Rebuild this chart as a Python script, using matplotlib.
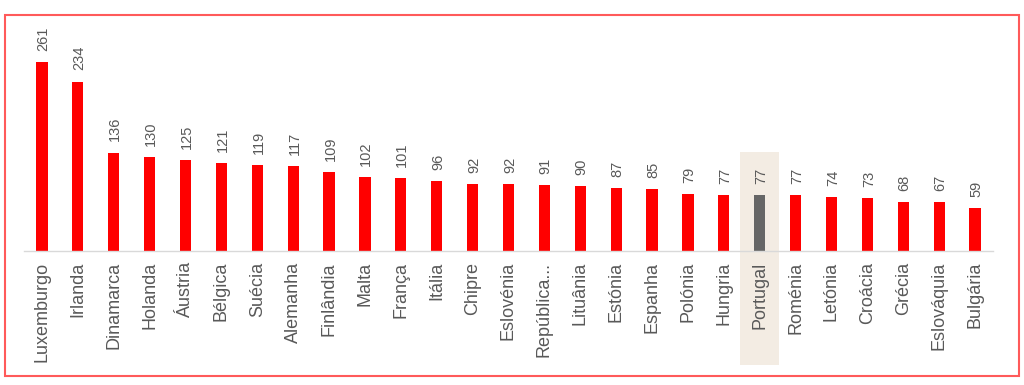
import matplotlib.pyplot as plt
from matplotlib.patches import Rectangle

plt.rcParams['font.family'] = ['Liberation Sans', 'DejaVu Sans']

countries = ["Luxemburgo", "Irlanda", "Dinamarca", "Holanda", "Áustria", "Bélgica",
             "Suécia", "Alemanha", "Finlândia", "Malta", "França", "Itália", "Chipre",
             "Eslovénia", "República...", "Lituânia", "Estónia", "Espanha", "Polónia",
             "Hungria", "Portugal", "Roménia", "Letónia", "Croácia", "Grécia",
             "Eslováquia", "Bulgária"]
values = [261, 234, 136, 130, 125, 121, 119, 117, 109, 102, 101, 96, 92, 92, 91,
          90, 87, 85, 79, 77, 77, 77, 74, 73, 68, 67, 59]
highlight = "Portugal"

red = "#FF0000"
grey_bar = "#666666"
text_col = "#595959"

fig = plt.figure(figsize=(10.24, 3.85), dpi=100)
ax = fig.add_axes([24 / 1024, 134 / 385, 969 / 1024, 231 / 385])

x = list(range(len(countries)))
colors = [grey_bar if c == highlight else red for c in countries]

# highlight band behind Portugal (extends under the labels)
hi = countries.index(highlight)
ax.add_patch(Rectangle((hi - 0.545, -157), 1.09, 294, facecolor="#F3ECE3",
                       edgecolor="none", clip_on=False, zorder=0))

ax.bar(x, values, width=0.31, color=colors, zorder=2)
for xi, v in zip(x, values):
    ax.annotate(str(v), (xi, v), xytext=(1, 8), textcoords="offset points",
                rotation=90, ha="center", va="bottom", fontsize=10.5, color=text_col)

ax.set_xlim(-0.5, len(countries) - 0.5)
ax.set_ylim(0, 319)
ax.set_xticks(x)
ax.set_xticklabels(countries, rotation=90, fontsize=13, color=text_col)
ax.tick_params(axis="x", length=0, pad=8)
ax.set_yticks([])
for s in ["top", "right", "left"]:
    ax.spines[s].set_visible(False)
ax.spines["bottom"].set_color("#D9D9D9")
ax.spines["bottom"].set_linewidth(1)
ax.patch.set_alpha(0)

# red frame around the chart
fig.patches.append(Rectangle((5 / 1024, 9 / 385), 1014 / 1024, 361 / 385,
                             transform=fig.transFigure, fill=False,
                             edgecolor="#FF5A5A", linewidth=1.5))

fig.savefig("out.png", dpi=100)
